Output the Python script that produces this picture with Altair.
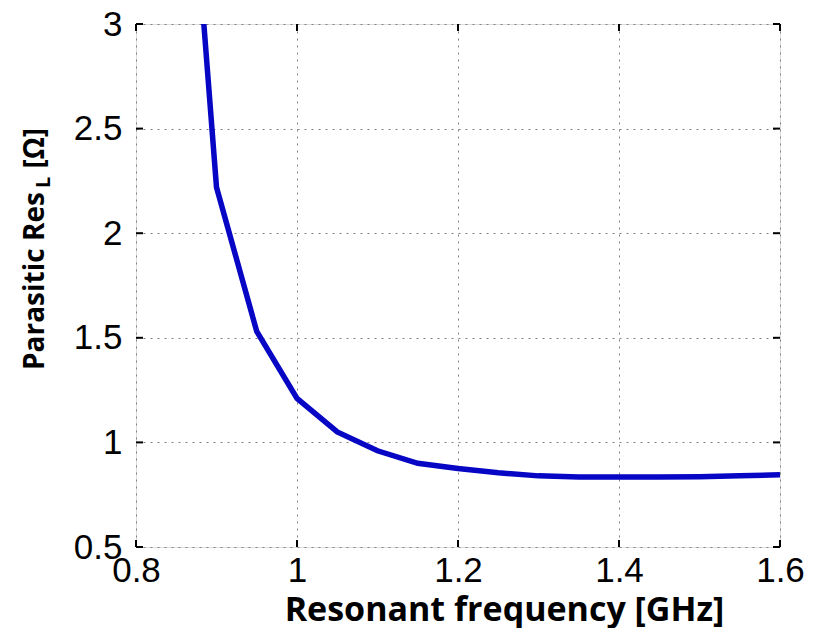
import altair as alt
import pandas as pd

# Data
freq = [0.85, 0.90, 0.95, 1.00, 1.05, 1.10, 1.15, 1.20, 1.25, 1.30, 1.35, 1.40, 1.45, 1.50, 1.55, 1.60]
res = [4.70, 2.22, 1.53, 1.21, 1.05, 0.96, 0.90, 0.875, 0.855, 0.84, 0.835, 0.835, 0.835, 0.836, 0.84, 0.845]

x_ticks = [0.8, 1.0, 1.2, 1.4, 1.6]
y_ticks = [0.5, 1.0, 1.5, 2.0, 2.5, 3.0]

W, H = 644, 523

df = pd.DataFrame({"freq": freq, "res": res})
xt = pd.DataFrame({"v": x_ticks})
yt = pd.DataFrame({"v": y_ticks})

xscale = alt.Scale(domain=[0.8, 1.6], nice=False)
yscale = alt.Scale(domain=[0.5, 3.0], nice=False)

xaxis = alt.Axis(
    values=x_ticks, format="~g", grid=True, gridDash=[2, 5], gridColor="#808080",
    gridWidth=1, domain=False, tickSize=0, labelFont="Liberation Sans",
    labelFontSize=35, labelColor="black", labelPadding=6, labelOverlap=False,
    labelFlush=False, labelBound=False,
    title="Resonant frequency [GHz]", titleFont="Open Sans", titleFontSize=34,
    titleFontWeight="bold", titleColor="black", titleX=368, titleY=73,
    titleBaseline="alphabetic", titleAlign="center",
)
yaxis = alt.Axis(
    values=y_ticks, format="~g", grid=True, gridDash=[2, 5], gridColor="#808080",
    gridWidth=1, domain=False, tickSize=0, labelFont="Liberation Sans",
    labelFontSize=35, labelColor="black", labelPadding=14, labelOverlap=False,
    labelFlush=False, labelBound=False, title="",
)

line = alt.Chart(df).mark_line(color="#0606c4", strokeWidth=5.5, clip=True).encode(
    x=alt.X("freq:Q", scale=xscale, axis=xaxis),
    y=alt.Y("res:Q", scale=yscale, axis=yaxis),
)

tk = dict(color="black", strokeWidth=2)
bt = alt.Chart(xt).mark_rule(**tk).encode(x=alt.X("v:Q", scale=xscale), y=alt.value(H), y2=alt.value(H - 7))
tt = alt.Chart(xt).mark_rule(**tk).encode(x=alt.X("v:Q", scale=xscale), y=alt.value(0), y2=alt.value(7))
lt = alt.Chart(yt).mark_rule(**tk).encode(y=alt.Y("v:Q", scale=yscale), x=alt.value(0), x2=alt.value(7))
rt = alt.Chart(yt).mark_rule(**tk).encode(y=alt.Y("v:Q", scale=yscale), x=alt.value(W), x2=alt.value(W - 7))

t1 = alt.Chart(pd.DataFrame({"t": ["Parasitic Res"]})).mark_text(
    angle=270, align="left", baseline="alphabetic", font="Open Sans",
    fontSize=28, fontWeight="bold", color="black"
).encode(text="t:N", x=alt.value(-92), y=alt.value(346))
t2 = alt.Chart(pd.DataFrame({"t": ["L"]})).mark_text(
    angle=270, align="left", baseline="alphabetic", font="Open Sans",
    fontSize=20, fontWeight="bold", color="black"
).encode(text="t:N", x=alt.value(-86), y=alt.value(164))
t3 = alt.Chart(pd.DataFrame({"t": ["[Ω]"]})).mark_text(
    angle=270, align="right", baseline="alphabetic", font="Open Sans",
    fontSize=28, fontWeight="bold", color="black"
).encode(text="t:N", x=alt.value(-92), y=alt.value(104))

chart = alt.layer(line, bt, tt, lt, rt, t1, t2, t3).properties(
    width=W, height=H,
    autosize=alt.AutoSizeParams(type="none"),
    padding={"left": 128, "top": 16, "right": 29, "bottom": 81},
).configure_view(stroke="black", strokeWidth=2).configure(background="white")

chart.save("out.html", embed_options={"renderer": "svg", "actions": False})
